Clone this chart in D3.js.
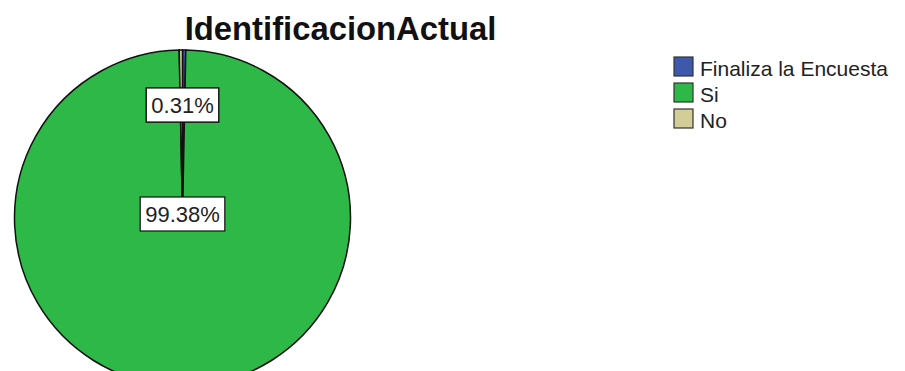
<!DOCTYPE html>
<html>
<head>
<meta charset="utf-8">
<script src="https://cdn.jsdelivr.net/npm/d3@7"></script>
<style>
  body { margin: 0; background: #fff; }
  text { font-family: "Liberation Sans", Arial, sans-serif; }
</style>
</head>
<body>
<div id="chart"></div>
<script>
const width = 905;
const height = 371;

const categories = ["Finaliza la Encuesta", "Si", "No"];
const percents = [0.31, 99.38, 0.31];
const colors = ["#3e58ac", "#2eb848", "#d3ce97"];
const title = "IdentificacionActual";

const cx = 182.5, cy = 218, radius = 168;

const svg = d3.select("#chart")
    .append("svg")
    .attr("width", width)
    .attr("height", height);

svg.append("text")
    .attr("x", 340.5)
    .attr("y", 40)
    .attr("text-anchor", "middle")
    .attr("font-size", 32.8)
    .attr("font-weight", "bold")
    .attr("fill", "#111")
    .text(title);

const color = d3.scaleOrdinal().domain(categories).range(colors);

const pie = d3.pie().sort(null).value(d => d.value);
const data = categories.map((c, i) => ({ name: c, value: percents[i] }));
const arcs = pie(data);

const arc = d3.arc().innerRadius(0).outerRadius(radius);

// the two tiny slices share one label spot at 12 o'clock; the big one sits at the centre
function labelPos(d) {
    if (d.data.value > 50) return [0, -4];
    const a = d.startAngle < Math.PI ? d.startAngle : d.endAngle;
    return d3.pointRadial(a, radius * 0.67);
}

const g = svg.append("g").attr("transform", `translate(${cx},${cy})`);

g.selectAll("path")
    .data(arcs)
    .enter()
    .append("path")
    .attr("d", arc)
    .attr("fill", d => color(d.data.name))
    .attr("stroke", "#111")
    .attr("stroke-width", 1.5);

const labels = g.selectAll("g.label")
    .data(arcs)
    .enter()
    .append("g")
    .attr("class", "label")
    .attr("transform", d => {
        const p = labelPos(d);
        return `translate(${Math.round(p[0])},${Math.round(p[1])})`;
    });

labels.each(function(d) {
    const sel = d3.select(this);
    const t = sel.append("text")
        .attr("text-anchor", "middle")
        .attr("dy", "0.36em")
        .attr("font-size", 22)
        .attr("fill", "#222")
        .text(d3.format(".2f")(d.data.value) + "%");
    const bb = t.node().getBBox();
    sel.insert("rect", "text")
        .attr("x", bb.x - 5)
        .attr("y", -17)
        .attr("width", bb.width + 10)
        .attr("height", 34)
        .attr("fill", "#fff")
        .attr("stroke", "#111")
        .attr("stroke-width", 1.2);
});

const legend = svg.append("g").attr("transform", "translate(674,57)");

const rows = legend.selectAll("g")
    .data(categories)
    .enter()
    .append("g")
    .attr("transform", (d, i) => `translate(0,${i * 26})`);

rows.append("rect")
    .attr("width", 19)
    .attr("height", 19)
    .attr("fill", d => color(d))
    .attr("stroke", "#333")
    .attr("stroke-width", 1.2);

rows.append("text")
    .attr("x", 26)
    .attr("y", 19)
    .attr("font-size", 21)
    .attr("fill", "#222")
    .text(d => d);
</script>
</body>
</html>
